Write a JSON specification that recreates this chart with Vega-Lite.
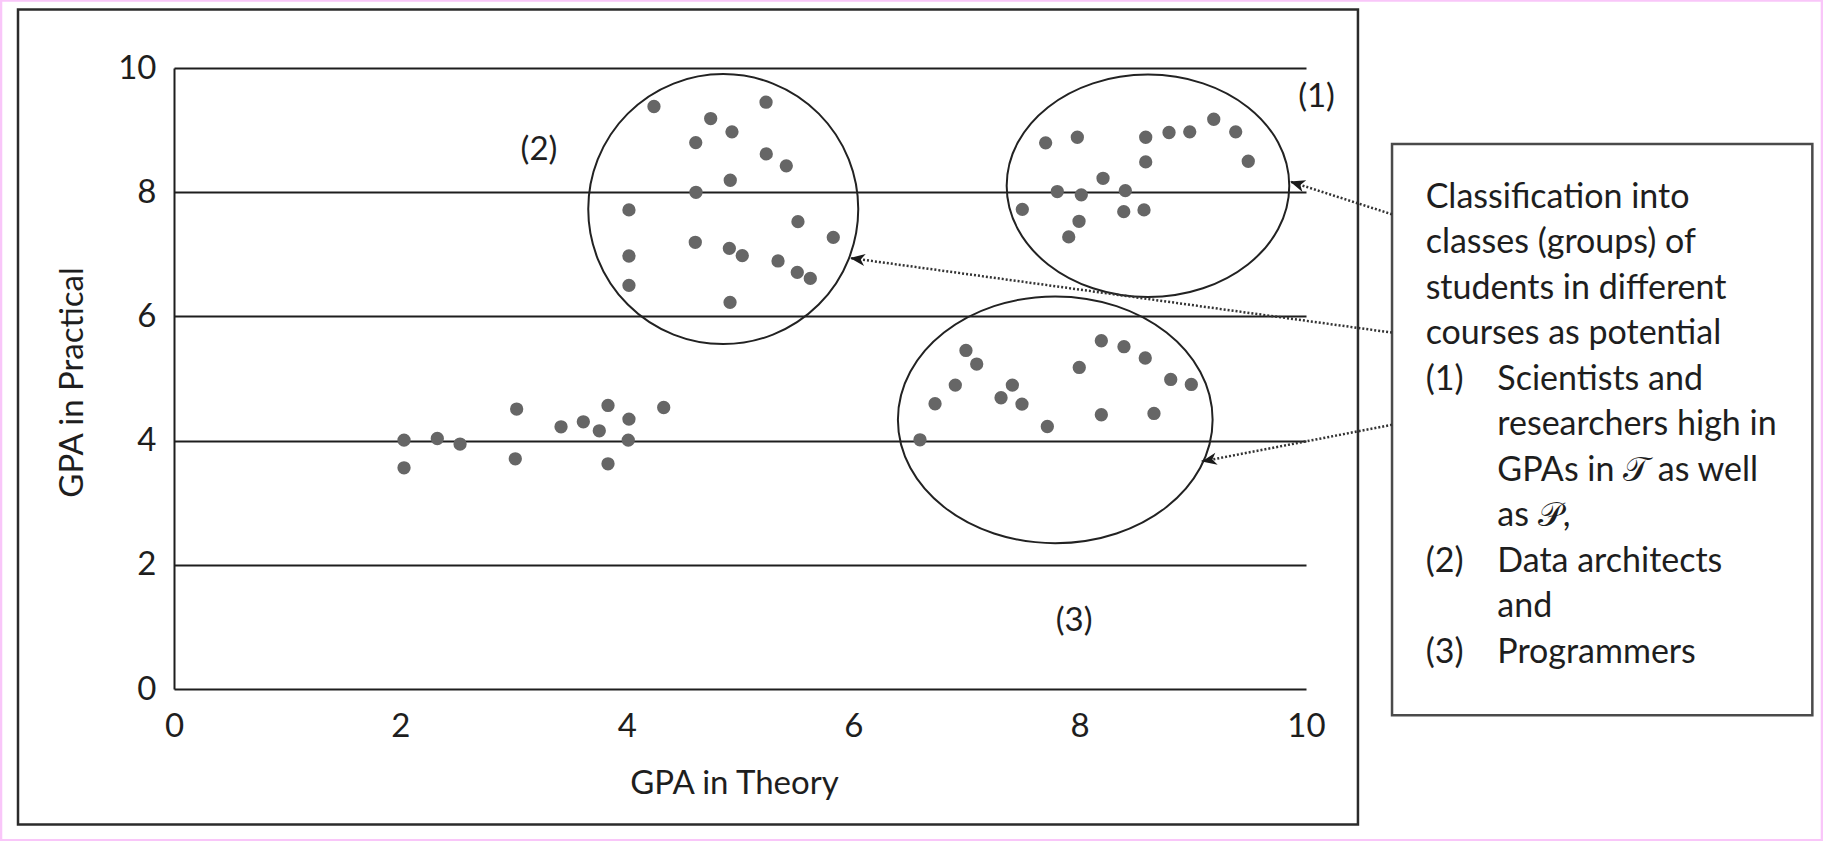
{
  "$schema": "https://vega.github.io/schema/vega-lite/v6.json",
  "width": 1132,
  "height": 621,
  "autosize": {"type": "none"},
  "padding": {"left": 174, "top": 68, "right": 517, "bottom": 152},
  "background": "white",
  "config": {"view": {"stroke": null}, "font": "Lato"},
  "datasets": {
    "frames": [
      {"kind": "page", "x": -1.528, "x2": 14.558, "y": 11.088, "y2": -2.434},
      {"kind": "frame", "x": -1.378, "x2": 10.459, "y": 10.943, "y2": -2.181},
      {"kind": "box", "x": 10.76, "x2": 14.473, "y": 8.778, "y2": -0.422}
    ],
    "ellipses": [
      {"id": 1, "x": 8.604, "y": 8.103},
      {"id": 2, "x": 4.852, "y": 7.728},
      {"id": 3, "x": 7.785, "y": 4.335}
    ],
    "points": [
      {"x": 2.032, "y": 4.008}, {"x": 2.032, "y": 3.562}, {"x": 2.326, "y": 4.034}, {"x": 2.527, "y": 3.944},
      {"x": 3.027, "y": 4.508}, {"x": 3.015, "y": 3.707}, {"x": 3.419, "y": 4.222}, {"x": 3.616, "y": 4.303},
      {"x": 3.757, "y": 4.158}, {"x": 3.834, "y": 4.566}, {"x": 3.834, "y": 3.626}, {"x": 4.019, "y": 4.346},
      {"x": 4.013, "y": 4.008}, {"x": 4.326, "y": 4.533},
      {"x": 4.240, "y": 9.380}, {"x": 5.230, "y": 9.449}, {"x": 4.741, "y": 9.186}, {"x": 4.929, "y": 8.972},
      {"x": 4.609, "y": 8.799}, {"x": 5.232, "y": 8.617}, {"x": 5.409, "y": 8.424}, {"x": 4.914, "y": 8.192},
      {"x": 4.611, "y": 7.998}, {"x": 4.019, "y": 7.715}, {"x": 5.512, "y": 7.526}, {"x": 5.824, "y": 7.273},
      {"x": 4.605, "y": 7.193}, {"x": 4.906, "y": 7.096}, {"x": 5.020, "y": 6.978}, {"x": 4.019, "y": 6.973},
      {"x": 5.336, "y": 6.893}, {"x": 5.506, "y": 6.709}, {"x": 5.621, "y": 6.612}, {"x": 4.019, "y": 6.500},
      {"x": 4.912, "y": 6.226},
      {"x": 7.700, "y": 8.795}, {"x": 7.980, "y": 8.885}, {"x": 8.584, "y": 8.885}, {"x": 8.790, "y": 8.961},
      {"x": 8.973, "y": 8.972}, {"x": 9.185, "y": 9.175}, {"x": 9.379, "y": 8.972}, {"x": 9.490, "y": 8.498},
      {"x": 8.584, "y": 8.488}, {"x": 8.207, "y": 8.224}, {"x": 7.803, "y": 8.010}, {"x": 8.015, "y": 7.957},
      {"x": 8.404, "y": 8.026}, {"x": 7.494, "y": 7.724}, {"x": 8.390, "y": 7.687}, {"x": 8.569, "y": 7.715},
      {"x": 7.995, "y": 7.531}, {"x": 7.904, "y": 7.280},
      {"x": 6.590, "y": 4.013}, {"x": 6.723, "y": 4.593}, {"x": 6.902, "y": 4.894}, {"x": 6.996, "y": 5.452},
      {"x": 7.091, "y": 5.233}, {"x": 7.306, "y": 4.690}, {"x": 7.406, "y": 4.894}, {"x": 7.491, "y": 4.588},
      {"x": 7.715, "y": 4.227}, {"x": 7.997, "y": 5.178}, {"x": 8.192, "y": 5.608}, {"x": 8.192, "y": 4.416},
      {"x": 8.392, "y": 5.512}, {"x": 8.580, "y": 5.330}, {"x": 8.657, "y": 4.437}, {"x": 8.805, "y": 4.985},
      {"x": 8.987, "y": 4.904}
    ],
    "arrows": [
      {"id": 1, "x": 10.76, "y": 7.644, "x2": 9.859, "y2": 8.171},
      {"id": 2, "x": 10.76, "y": 5.739, "x2": 5.972, "y2": 6.941},
      {"id": 3, "x": 10.76, "y": 4.255, "x2": 9.079, "y2": 3.663}
    ],
    "labels": [
      {"label": "(1)", "x": 10.093, "y": 9.533},
      {"label": "(2)", "x": 3.224, "y": 8.687},
      {"label": "(3)", "x": 7.951, "y": 1.099}
    ],
    "boxtext": [
      {"x": 11.057, "y": 7.75, "lines": ["Classification into", "classes (groups) of", "students in different", "courses as potential"]},
      {"x": 11.057, "y": 4.82, "lines": ["(1)"]},
      {"x": 11.69, "y": 4.82, "lines": ["Scientists and", "researchers high in", "GPAs in 𝒯 as well", "as 𝒫,"]},
      {"x": 11.057, "y": 1.889, "lines": ["(2)"]},
      {"x": 11.69, "y": 1.889, "lines": ["Data architects", "and"]},
      {"x": 11.057, "y": 0.4235, "lines": ["(3)"]},
      {"x": 11.69, "y": 0.4235, "lines": ["Programmers"]}
    ]
  },
  "layer": [
    {
      "data": {"name": "frames"},
      "mark": {"type": "rect", "filled": false, "strokeWidth": 2.5},
      "encoding": {
        "x": {"field": "x", "type": "quantitative", "scale": {"domain": [0, 10], "nice": false, "zero": false},
          "axis": {"title": "GPA in Theory", "values": [0, 2, 4, 6, 8, 10], "format": "d", "grid": false, "domain": false, "ticks": false, "tickSize": 0,
            "labelFont": "Lato", "labelFontSize": 33, "labelColor": "#1e1e1e", "labelPadding": 21, "labelFlush": false, "labelOverlap": false,
            "titleFont": "Lato", "titleFontSize": 33, "titleFontWeight": "normal", "titleColor": "#1e1e1e", "titleX": 560, "titleY": 104, "titleBaseline": "alphabetic"}},
        "x2": {"field": "x2"},
        "y": {"field": "y", "type": "quantitative", "scale": {"domain": [0, 10], "nice": false, "zero": false},
          "axis": {"title": "GPA in Practical", "values": [0, 2, 4, 6, 8, 10], "format": "d", "grid": true, "gridColor": "#1e1e1e", "gridWidth": 2, "gridOpacity": 1,
            "domain": true, "domainColor": "#1e1e1e", "domainWidth": 2, "ticks": false, "tickSize": 0,
            "labelFont": "Lato", "labelFontSize": 33, "labelColor": "#1e1e1e", "labelPadding": 18, "labelFlush": false, "labelOverlap": false,
            "titleFont": "Lato", "titleFontSize": 33, "titleFontWeight": "normal", "titleColor": "#1e1e1e", "titleX": -92, "titleY": 314, "titleBaseline": "alphabetic", "titleAngle": 270}},
        "y2": {"field": "y2"},
        "stroke": {"field": "kind", "type": "nominal", "scale": {"domain": ["page", "frame", "box"], "range": ["#f9c6f9", "#2b2b2b", "#4a4a4a"]}, "legend": null}
      }
    },
    {
      "data": {"name": "ellipses"},
      "transform": [{"filter": "datum.id == 1"}],
      "mark": {"type": "point", "shape": "M-1,0A1,0.787,0,1,0,1,0A1,0.787,0,1,0,-1,0Z", "size": 79863, "filled": false, "stroke": "#222", "strokeWidth": 2, "opacity": 1},
      "encoding": {"x": {"field": "x", "type": "quantitative"}, "y": {"field": "y", "type": "quantitative"}}
    },
    {
      "data": {"name": "ellipses"},
      "transform": [{"filter": "datum.id == 2"}],
      "mark": {"type": "point", "shape": "circle", "size": 72900, "filled": false, "stroke": "#222", "strokeWidth": 2, "opacity": 1},
      "encoding": {"x": {"field": "x", "type": "quantitative"}, "y": {"field": "y", "type": "quantitative"}}
    },
    {
      "data": {"name": "ellipses"},
      "transform": [{"filter": "datum.id == 3"}],
      "mark": {"type": "point", "shape": "M-1,0A1,0.784,0,1,0,1,0A1,0.784,0,1,0,-1,0Z", "size": 99036, "filled": false, "stroke": "#222", "strokeWidth": 2, "opacity": 1},
      "encoding": {"x": {"field": "x", "type": "quantitative"}, "y": {"field": "y", "type": "quantitative"}}
    },
    {
      "data": {"name": "points"},
      "mark": {"type": "circle", "size": 177, "color": "#666666", "opacity": 1},
      "encoding": {"x": {"field": "x", "type": "quantitative"}, "y": {"field": "y", "type": "quantitative"}}
    },
    {
      "data": {"name": "arrows"},
      "mark": {"type": "rule", "color": "#333", "strokeWidth": 2.5, "strokeDash": [2, 2]},
      "encoding": {"x": {"field": "x", "type": "quantitative"}, "y": {"field": "y", "type": "quantitative"}, "x2": {"field": "x2"}, "y2": {"field": "y2"}}
    },
    {
      "data": {"name": "arrows"},
      "mark": {"type": "point", "shape": "M0,0L0.65,1.6L0,1.15L-0.65,1.6Z", "size": 352, "filled": true, "color": "#1a1a1a", "opacity": 1},
      "encoding": {
        "x": {"field": "x2", "type": "quantitative"},
        "y": {"field": "y2", "type": "quantitative"},
        "angle": {"field": "id", "type": "quantitative", "scale": {"domain": [1, 2, 3], "range": [287.8, 277.8, 259.1]}, "legend": null}
      }
    },
    {
      "data": {"name": "labels"},
      "mark": {"type": "text", "font": "Lato", "fontSize": 33, "color": "#1e1e1e", "align": "center", "baseline": "middle"},
      "encoding": {"x": {"field": "x", "type": "quantitative"}, "y": {"field": "y", "type": "quantitative"}, "text": {"field": "label", "type": "nominal"}}
    },
    {
      "data": {"name": "boxtext"},
      "mark": {"type": "text", "font": "Lato", "fontSize": 34, "color": "#1e1e1e", "align": "left", "baseline": "alphabetic", "lineHeight": 45.5},
      "encoding": {"x": {"field": "x", "type": "quantitative"}, "y": {"field": "y", "type": "quantitative"}, "text": {"field": "lines", "type": "nominal"}}
    }
  ]
}
